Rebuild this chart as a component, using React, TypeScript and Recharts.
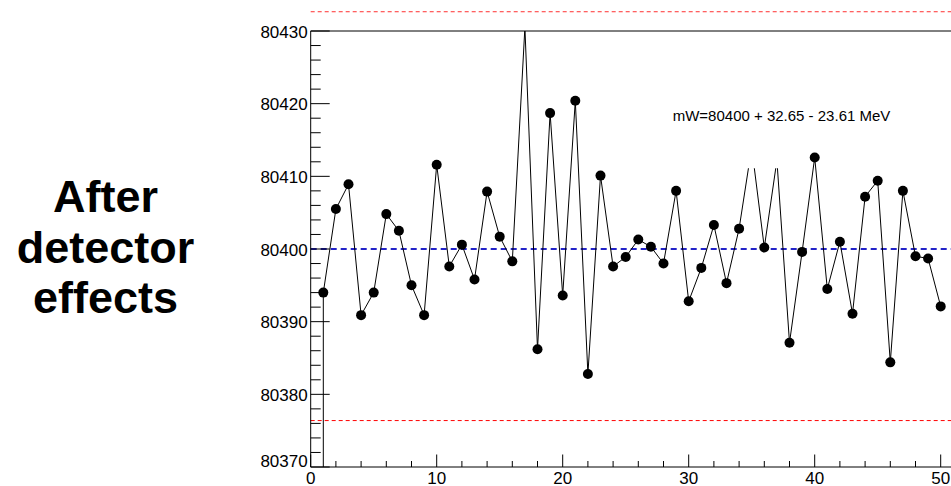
import { LineChart, Line, XAxis, YAxis, ReferenceLine, ReferenceArea } from "recharts";

// fitted W mass per pseudo-experiment (MeV)
const mWFits = [
  80394.0, 80405.5, 80408.9, 80390.9, 80394.0, 80404.8, 80402.5, 80395.0, 80390.9, 80411.6,
  80397.6, 80400.6, 80395.8, 80407.9, 80401.7, 80398.3, 80430.5, 80386.2, 80418.7, 80393.6,
  80420.4, 80382.8, 80410.1, 80397.6, 80398.9, 80401.3, 80400.3, 80398.0, 80408.0, 80392.8,
  80397.4, 80403.3, 80395.3, 80402.8, 80414.0, 80400.2, 80412.2, 80387.1, 80399.6, 80412.6,
  80394.5, 80401.0, 80391.1, 80407.2, 80409.4, 80384.4, 80408.0, 80399.0, 80398.7, 80392.1,
];
const runs = mWFits.map((_, i) => i + 1);

// graph starts from below the frame at the first run
const startRun = 1;
const startValue = 80360;

const mWNominal = 80400;
const errUp = 32.65;
const errDown = 23.61;

const yMajor = [80370, 80380, 80390, 80400, 80410, 80420, 80430];
const yTicks = [80370, 80372, 80374, 80376, 80378, 80380, 80382, 80384, 80386, 80388, 80390,
  80392, 80394, 80396, 80398, 80400, 80402, 80404, 80406, 80408, 80410, 80412, 80414, 80416,
  80418, 80420, 80422, 80424, 80426, 80428, 80430];
const xMajor = [0, 10, 20, 30, 40, 50];
const xTicks = [0, 2, 4, 6, 8, 10, 12, 14, 16, 18, 20, 22, 24, 26, 28, 30, 32, 34, 36, 38, 40,
  42, 44, 46, 48, 50];

const yMin = 80370;
const yMax = 80430;

const data = [{ run: startRun, mW: startValue }].concat(
  runs.map((r, i) => ({ run: r, mW: mWFits[i] }))
);

const font = "'Liberation Sans', Arial, Helvetica, sans-serif";

const YTick = (props: any) => {
  const { x, y, payload } = props;
  const major = yMajor.includes(payload.value);
  const first = payload.value === yMin;
  return (
    <g>
      <line x1={x} y1={y} x2={x + (major ? 19 : 10)} y2={y} stroke="#000" strokeWidth={1} />
      {major && (
        <text x={x - 3} y={first ? y - 0.5 : y + 6.5} textAnchor="end" fontSize={17} fontFamily={font} fill="#000">
          {payload.value}
        </text>
      )}
    </g>
  );
};

const XTick = (props: any) => {
  const { x, y, payload } = props;
  const major = xMajor.includes(payload.value);
  return (
    <g>
      <line x1={x} y1={y} x2={x} y2={y - (major ? 12.5 : 6)} stroke="#000" strokeWidth={1} />
      {major && (
        <text x={x} y={y + 16.5} textAnchor="middle" fontSize={17} fontFamily={font} fill="#000">
          {payload.value}
        </text>
      )}
    </g>
  );
};

const Marker = (props: any) => {
  const { cx, cy, payload, index } = props;
  if (payload.mW < yMin || payload.mW > yMax) return <g key={index} />;
  return <circle key={index} cx={cx} cy={cy} r={5} fill="#000" stroke="none" />;
};

export default function App() {
  return (
    <div style={{ position: "relative", width: 951, height: 486, overflow: "hidden", background: "#fff" }}>
      <style>{"html,body{margin:0;padding:0;overflow:hidden}"}</style>
      <LineChart
        width={980}
        height={486}
        data={data}
        margin={{ top: 31, right: 14.1, bottom: 0, left: 250 }}
      >
        <XAxis
          type="number"
          dataKey="run"
          domain={[0, 52]}
          allowDataOverflow
          ticks={xTicks}
          interval={0}
          tick={<XTick />}
          tickLine={false}
          tickSize={0}
          tickMargin={0}
          height={19}
          axisLine={{ stroke: "#000", strokeWidth: 1 }}
        />
        <YAxis
          type="number"
          domain={[yMin, yMax]}
          allowDataOverflow
          ticks={yTicks}
          interval={0}
          tick={<YTick />}
          tickLine={false}
          tickSize={0}
          tickMargin={0}
          width={60.7}
          axisLine={{ stroke: "#000", strokeWidth: 1 }}
        />
        <ReferenceLine y={yMax} stroke="#000" strokeWidth={1} />
        <ReferenceLine y={mWNominal} stroke="#2323c8" strokeWidth={2} strokeDasharray="6 4" />
        <ReferenceLine y={mWNominal + errUp} stroke="#ff3030" strokeWidth={1} strokeDasharray="4 3" ifOverflow="visible" />
        <ReferenceLine y={mWNominal - errDown} stroke="#ff0000" strokeWidth={1} strokeDasharray="4 3" />
        <Line
          type="linear"
          dataKey="mW"
          stroke="#000"
          strokeWidth={1}
          dot={Marker}
          activeDot={false}
          isAnimationActive={false}
        />
        <ReferenceArea
          x1={34.3}
          x2={39.3}
          y1={80411.1}
          y2={80418}
          fill="#fff"
          fillOpacity={1}
          stroke="none"
          zIndex={1500}
        />
      </LineChart>
      <svg
        width={951}
        height={486}
        style={{ position: "absolute", left: 0, top: 0, pointerEvents: "none" }}
      >
        <text x={672.7} y={121} fontSize={15} fontFamily={font} fill="#000">
          {`mW=${mWNominal} + ${errUp} - ${errDown} MeV`}
        </text>
        <g fontFamily={font} fontWeight="bold" fontSize={45} textAnchor="middle" fill="#000">
          <text x={105.5} y={212}>After</text>
          <text x={105.5} y={263}>detector</text>
          <text x={105.5} y={313}>effects</text>
        </g>
      </svg>
    </div>
  );
}
